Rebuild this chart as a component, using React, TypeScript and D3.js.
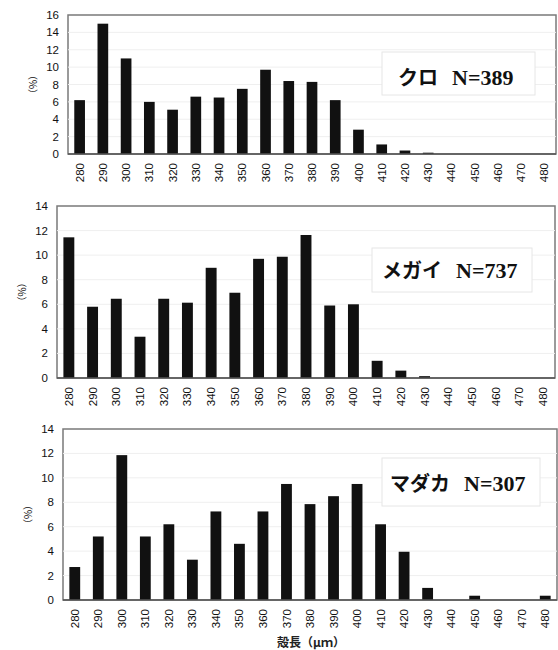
import React from "react";
import * as d3 from "d3";

const categories = ["280","290","300","310","320","330","340","350","360","370","380","390","400","410","420","430","440","450","460","470","480"];
const kuroValues = [6.2,15.0,11.0,6.0,5.1,6.6,6.5,7.5,9.7,8.4,8.3,6.2,2.8,1.1,0.4,0.15,0,0,0,0,0];
const megaiValues = [11.45,5.8,6.45,3.36,6.45,6.13,8.97,6.94,9.7,9.87,11.64,5.9,6.0,1.4,0.6,0.15,0,0,0,0,0];
const madakaValues = [2.7,5.2,11.86,5.2,6.2,3.3,7.25,4.6,7.25,9.5,7.85,8.5,9.5,6.2,3.95,0.99,0,0.35,0,0,0.35];
const kuroTicks = [0,2,4,6,8,10,12,14,16];
const pctTicks = [0,2,4,6,8,10,12,14];
const speciesNames = ["クロ", "メガイ", "マダカ"];
const sampleSizes = [389, 737, 307];
const yLabel = "（%）";
const xTitle = "殻長（μｍ）";

type PanelProps = {
  values: number[];
  ticks: number[];
  yMax: number;
  left: number; right: number; top: number; bottom: number;
  tickRight: number; yLabelX: number;
  xLabelTop: number;
  name: string; n: number;
  boxX: number; boxY: number; boxW: number; boxH: number;
  textX: number; textY: number;
};

function Panel(p: PanelProps) {
  const x = d3.scaleBand<string>().domain(categories).range([p.left, p.right]).paddingInner(0.54).paddingOuter(0.27);
  const y = d3.scaleLinear().domain([0, p.yMax]).range([p.bottom, p.top]);
  const bw = x.bandwidth();
  return (
    <g>
      <rect x={p.left} y={p.top} width={p.right - p.left} height={p.bottom - p.top} fill="#fff" stroke="#7a7a7a" strokeWidth={1.5} />
      {p.ticks.filter(t => t > 0 && t < p.yMax).map(t => (
        <line key={"g" + t} x1={p.left} x2={p.right} y1={y(t)} y2={y(t)} stroke="#efefef" strokeWidth={1} />
      ))}
      <rect x={p.boxX} y={p.boxY} width={p.boxW} height={p.boxH} fill="#fff" stroke="#e6e6e6" strokeWidth={1} />
      {p.values.map((v, i) => (
        v > 0 ? <rect key={i} x={(x(categories[i]) as number)} y={y(v)} width={bw} height={p.bottom - y(v)} fill="#111" /> : null
      ))}
      <line x1={p.left} x2={p.right} y1={p.bottom} y2={p.bottom} stroke="#555" strokeWidth={1.5} />
      {p.ticks.map(t => (
        <text key={"t" + t} x={p.tickRight} y={y(t)} dy="0.35em" textAnchor="end" fontSize={11.5} fontFamily="Liberation Sans, Arial, sans-serif" fill="#111">{t}</text>
      ))}
      <text transform={`translate(${p.yLabelX},${(p.top + p.bottom) / 2}) rotate(-90)`} textAnchor="middle" dy="0.35em" fontSize={10} fontFamily="Noto Sans CJK JP, sans-serif" fill="#111">{yLabel}</text>
      {categories.map(c => (
        <text key={"x" + c} transform={`translate(${(x(c) as number) + bw / 2},${p.xLabelTop}) rotate(-90)`} textAnchor="end" dy="0.35em" fontSize={11.5} fontFamily="Liberation Sans, Arial, sans-serif" fill="#111">{c}</text>
      ))}
      <text x={p.textX} y={p.textY} fontSize={20} fontWeight="bold" fill="#111">
        <tspan fontFamily="Noto Sans CJK JP, sans-serif">{p.name}</tspan>
        <tspan dx={14} fontSize={22} fontFamily="Liberation Serif, Times New Roman, serif">{"N=" + p.n}</tspan>
      </text>
    </g>
  );
}

export default function App() {
  return (
    <svg width={558} height={650} style={{ position: "absolute", left: 0, top: 0, background: "#fff" }}>
      <rect x={0} y={0} width={558} height={650} fill="#fff" />
      <Panel values={kuroValues} ticks={kuroTicks} yMax={16} left={68} right={556} top={15} bottom={154}
        tickRight={59} yLabelX={33} xLabelTop={163} name={speciesNames[0]} n={sampleSizes[0]}
        boxX={382} boxY={52} boxW={153} boxH={43} textX={398} textY={85} />
      <Panel values={megaiValues} ticks={pctTicks} yMax={14} left={57} right={555} top={206} bottom={378}
        tickRight={48} yLabelX={22} xLabelTop={387} name={speciesNames[1]} n={sampleSizes[1]}
        boxX={372} boxY={248} boxW={160} boxH={44} textX={382} textY={278} />
      <Panel values={madakaValues} ticks={pctTicks} yMax={14} left={63} right={557} top={429} bottom={600}
        tickRight={54} yLabelX={28} xLabelTop={609} name={speciesNames[2]} n={sampleSizes[2]}
        boxX={382} boxY={458} boxW={158} boxH={48} textX={390} textY={491} />
      <text x={311} y={647} textAnchor="middle" fontSize={12} fontWeight="bold" fontFamily="Noto Sans CJK JP, sans-serif" fill="#222">{xTitle}</text>
    </svg>
  );
}
